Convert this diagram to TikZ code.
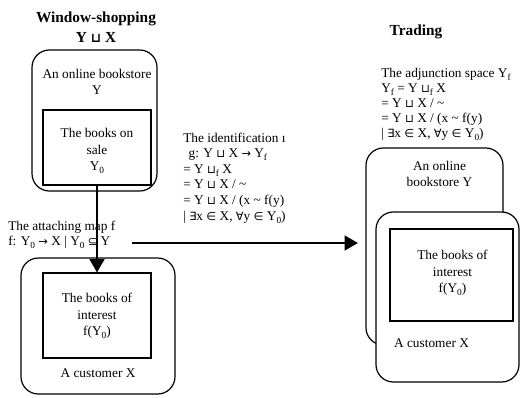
\documentclass[tikz,border=0pt]{standalone}
\usepackage{fontspec}
\setmainfont{Liberation Serif}
\newfontfamily\symf[Scale=0.85]{DejaVu Sans}
\usetikzlibrary{arrows.meta}
\newcommand{\sbs}[1]{\raisebox{-0.5ex}{\fontsize{7}{7}\selectfont #1}}
\newcommand{\dju}{{\symf ⊔}}
\newcommand{\sto}{{\symf →}}
\newcommand{\ssub}{{\symf ⊆}}
\newcommand{\sex}{{\symf ∃}}
\newcommand{\sall}{{\symf ∀}}
\newcommand{\selem}{{\symf ∈}}
\newcommand{\stl}{\textasciitilde}
\begin{document}
\begin{tikzpicture}[x=0.75pt,y=-0.75pt,
  outerbox/.style={draw, line width=0.9pt, rounded corners=13pt, fill=white},
  innerbox/.style={draw, line width=0.8pt, fill=white},
  txt/.style={font=\fontsize{10}{12.5}\selectfont, inner sep=0pt, align=center},
  ltxt/.style={font=\fontsize{10}{11.5}\selectfont, inner sep=0pt, align=left, anchor=west},
  ttl/.style={font=\fontsize{11.5}{15}\selectfont\bfseries, inner sep=0pt, align=center},
  arr/.style={line width=1.9pt, -{Triangle[length=10pt,width=11pt]}}]
\useasboundingbox (0,0) rectangle (521,397);

% titles
\node[ttl] (t1) at (96,27) {Window-shopping\\Y \dju{} X};
\node[ttl] (t2) at (416,32) {Trading};

% left side
\node[outerbox, minimum width=93.75pt, minimum height=105.75pt] (LY) at (94.5,120.5) {};
\node[innerbox, minimum width=81pt, minimum height=56.25pt] (LY0) at (97,147.5) {};
\node[txt] (lyt) at (97,82) {An online bookstore\\Y};
\node[txt] (ly0t) at (97,151) {The books on\\sale\\Y\sbs{0}};

\node[outerbox, minimum width=115.5pt, minimum height=102pt] (LX) at (98,326) {};
\node[innerbox, minimum width=81pt, minimum height=63.75pt] (LXI) at (97,315.5) {};
\node[txt] (lxit) at (97,316) {The books of\\interest\\f(Y\sbs{0})};
\node[txt] (lxt) at (98,373) {A customer X};

\node[ltxt] (att) at (8,235) {The attaching map f\\f: Y\sbs{0} \sto{} X | Y\sbs{0} \ssub{} Y};

% middle text
\node[ltxt, font=\fontsize{10}{11.7}\selectfont] (ident) at (183,178) {The identification ı\\\hspace{4pt}g: Y \dju{} X \sto{} Y\sbs{f}\\= Y \dju\sbs{f} X\\= Y \dju{} X / \stl\\= Y \dju{} X / (x \stl{} f(y)\\| \sex{}x \selem{} X, \sall{}y \selem{} Y\sbs{0})};

% right text
\node[ltxt, font=\fontsize{10}{11.25}\selectfont] (adj) at (381,104) {The adjunction space Y\sbs{f}\\Y\sbs{f} = Y \dju\sbs{f} X\\= Y \dju{} X / \stl\\= Y \dju{} X / (x \stl{} f(y)\\| \sex{}x \selem{} X, \sall{}y \selem{} Y\sbs{0})};

% right side
\node[outerbox, minimum width=102.75pt, minimum height=147.75pt] (RY) at (434.5,246.5) {};
\node[txt] (ryt) at (439.5,174) {An online\\bookstore Y};
\node[outerbox, minimum width=107.25pt, minimum height=127.5pt] (RX) at (447.5,297) {};
\node[innerbox, minimum width=92.25pt, minimum height=69pt] (RXI) at (451.5,275) {};
\node[txt] (rxit) at (452.5,273) {The books of\\interest\\f(Y\sbs{0})};
\node[txt] (rxt) at (431.5,343) {A customer X};

% arrows
\coordinate (hs) at (132,243);
\coordinate (he) at (358,243);
\draw[arr] (LY0.south) -- (LXI.north);
\draw[arr] (hs) -- (he);
\end{tikzpicture}
\end{document}
